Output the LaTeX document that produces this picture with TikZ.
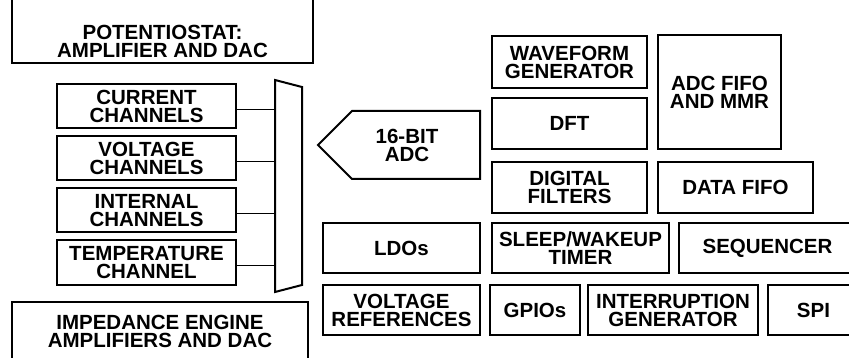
\documentclass[tikz,border=0pt]{standalone}
\usepackage{fontspec}
\setmainfont{Liberation Sans}
\usetikzlibrary{positioning}
\tikzset{
  blk/.style={draw,line width=2pt,inner sep=0pt,outer sep=0pt,align=center,
    font=\bfseries\fontsize{20.5}{18}\selectfont},
  txt/.style={inner sep=0pt,align=center,font=\bfseries\fontsize{20.5}{18}\selectfont},
  chan/.style={blk,minimum width=179pt,minimum height=44pt},
  outline/.style={line width=2pt,line join=miter},
  wire/.style={line width=1.5pt}
}

\begin{document}
\begin{tikzpicture}[x=1pt,y=-1pt]
\useasboundingbox (0,0) rectangle (849,358);
\clip (0,0) rectangle (849,358);
% analog front end
\node[blk,minimum width=301pt,minimum height=83pt] (pot) at (162.5,21.5) {};
\node[txt] (pottxt) at (162.5,41) {POTENTIOSTAT:\\AMPLIFIER AND DAC};
\node[chan] (cur) at (146.5,106.5) {CURRENT\\CHANNELS};
\node[chan,below=8pt of cur] (vol) {VOLTAGE\\CHANNELS};
\node[chan,below=8pt of vol] (int) {INTERNAL\\CHANNELS};
\node[chan,below=8pt of int] (tmp) {TEMPERATURE\\CHANNEL};
\node[blk,minimum width=296pt,minimum height=80pt] (imp) at (160,342) {};
\node[txt] (imptxt) at (160,331.5) {IMPEDANCE ENGINE\\AMPLIFIERS AND DAC};
% mux
\coordinate (muxtl) at (275,80);
\coordinate (muxtr) at (302,87);
\coordinate (muxbr) at (302,285);
\coordinate (muxbl) at (275,292);
\draw[outline] (muxtl) -- (muxtr) -- (muxbr) -- (muxbl) -- cycle;
\foreach \c in {cur,vol,int,tmp}
  \draw[wire] ([yshift=-3pt]\c.east) -- ([yshift=-3pt]\c.east -| muxtl);
% adc
\coordinate (adctip) at (318,145);
\draw[outline] (adctip) -- (352,111) -- (480,111) -- (480,179) -- (352,179) -- cycle;
\node[txt] (adc) at (407,145) {16-BIT\\ADC};
% digital blocks
\node[blk,minimum width=155pt,minimum height=52pt] (wav) at (569.5,62) {WAVEFORM\\GENERATOR};
\node[blk,minimum width=155pt,minimum height=51pt] (dft) at (569.5,123.5) {DFT};
\node[blk,minimum width=155pt,minimum height=51pt] (dig) at (569.5,187.5) {DIGITAL\\FILTERS};
\node[blk,minimum width=123pt,minimum height=114pt] (fifo) at (719.5,92) {ADC FIFO\\AND MMR};
\node[blk,minimum width=155pt,minimum height=51pt] (dfifo) at (735.5,187.5) {DATA FIFO};
% housekeeping
\node[blk,minimum width=157pt,minimum height=50pt] (ldo) at (401.5,248) {LDOs};
\node[blk,minimum width=177pt,minimum height=50pt] (slp) at (580.5,248) {SLEEP/WAKEUP\\TIMER};
\node[blk,minimum width=177pt,minimum height=50pt] (seq) at (767.5,248) {SEQUENCER};
\node[blk,minimum width=157pt,minimum height=50pt] (vref) at (401.5,310) {VOLTAGE\\REFERENCES};
\node[blk,minimum width=90pt,minimum height=50pt] (gpio) at (535,310) {GPIOs};
\node[blk,minimum width=170pt,minimum height=50pt] (irq) at (673,310) {INTERRUPTION\\GENERATOR};
\node[blk,minimum width=91pt,minimum height=50pt] (spi) at (813.5,310) {SPI};
\end{tikzpicture}
\end{document}
